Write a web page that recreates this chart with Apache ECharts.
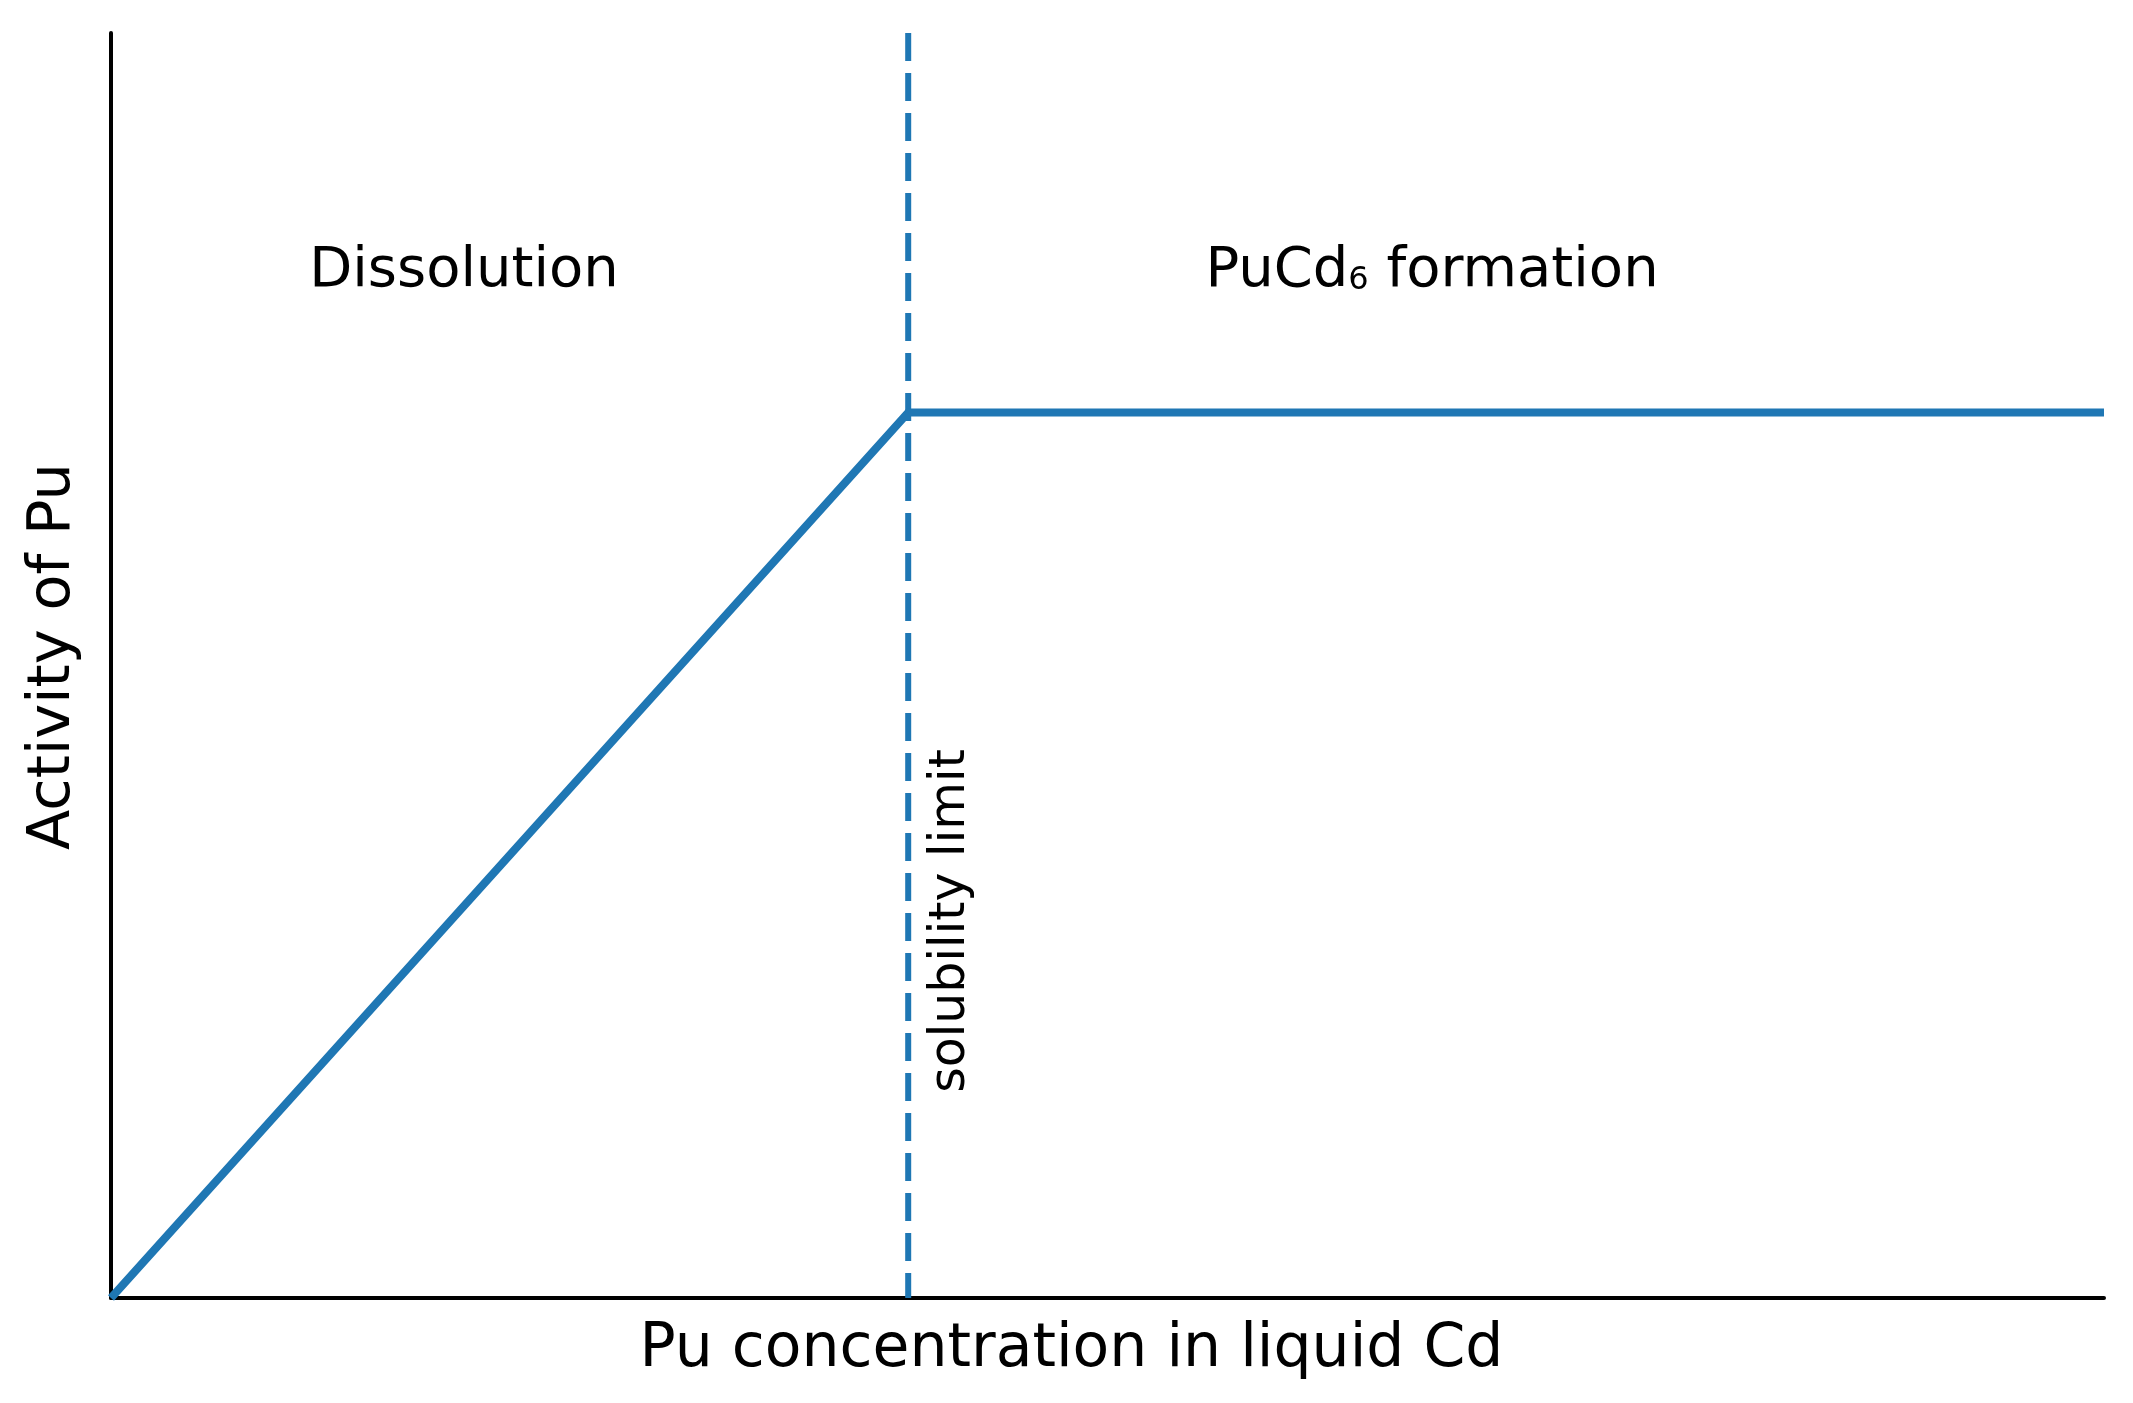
<!DOCTYPE html>
<html>
<head>
<meta charset="utf-8">
<script src="https://cdn.jsdelivr.net/npm/echarts@6/dist/echarts.min.js"></script>
<style>
  html, body { margin: 0; padding: 0; background: #fff; }
  #chart { width: 2133px; height: 1403px; }
</style>
</head>
<body>
<div id="chart"></div>
<script>
// activity curve: linear rise up to the solubility limit, then flat
const activityX = [0, 40, 100]
const activityY = [0, 70, 70]
// solubility limit (vertical dashed line)
const limitX = [40, 40]
const limitY = [100, 0]

const blue = '#1f77b4'
const font = 'DejaVu Sans'

const chart = echarts.init(document.getElementById('chart'))

const option = {
  backgroundColor: '#fff',
  animation: false,
  grid: { left: 111, right: 29, top: 33, bottom: 105, outerBoundsMode: 'none' },
  xAxis: {
    type: 'value',
    min: 0,
    max: 100,
    name: 'Pu concentration in liquid Cd',
    nameLocation: 'middle',
    nameGap: 22,
    nameTextStyle: { fontFamily: font, fontSize: 60, color: '#000', padding: [0, 72, 0, 0] },
    axisLine: { lineStyle: { color: '#000', width: 4 } },
    axisTick: { show: false },
    axisLabel: { show: false },
    splitLine: { show: false }
  },
  yAxis: {
    type: 'value',
    min: 0,
    max: 100,
    name: 'Activity of Pu',
    nameLocation: 'middle',
    nameGap: 28,
    nameTextStyle: { fontFamily: font, fontSize: 59, color: '#000', padding: [0, 0, 0, 18] },
    axisLine: { show: true, lineStyle: { color: '#000', width: 4 } },
    axisTick: { show: false },
    axisLabel: { show: false },
    splitLine: { show: false }
  },
  series: [
    {
      type: 'line',
      data: activityX.map((x, i) => [x, activityY[i]]),
      symbol: 'none',
      z: 3,
      lineStyle: { color: blue, width: 8, cap: 'butt', join: 'miter' }
    },
    {
      type: 'line',
      data: limitX.map((x, i) => [x, limitY[i]]),
      symbol: 'none',
      z: 2,
      lineStyle: { color: blue, width: 6, type: [28, 12] }
    }
  ],
  graphic: [
    {
      type: 'text',
      x: 464,
      y: 271,
      style: {
        text: 'Dissolution',
        font: '56px "DejaVu Sans"',
        fill: '#000',
        align: 'center',
        verticalAlign: 'middle'
      }
    },
    {
      type: 'text',
      x: 1432,
      y: 271,
      style: {
        text: '{n|PuCd}{s|6}{n| formation}',
        align: 'center',
        verticalAlign: 'middle',
        rich: {
          n: { fontFamily: font, fontSize: 56, fill: '#000', verticalAlign: 'bottom' },
          s: { fontFamily: font, fontSize: 32, fill: '#000', verticalAlign: 'bottom', padding: [0, 0, 2, 0] }
        }
      }
    },
    {
      type: 'text',
      x: 951,
      y: 921,
      rotation: Math.PI / 2,
      style: {
        text: 'solubility limit',
        font: '49px "DejaVu Sans"',
        fill: '#000',
        align: 'center',
        verticalAlign: 'middle'
      }
    }
  ]
}

chart.setOption(option)
</script>
</body>
</html>
